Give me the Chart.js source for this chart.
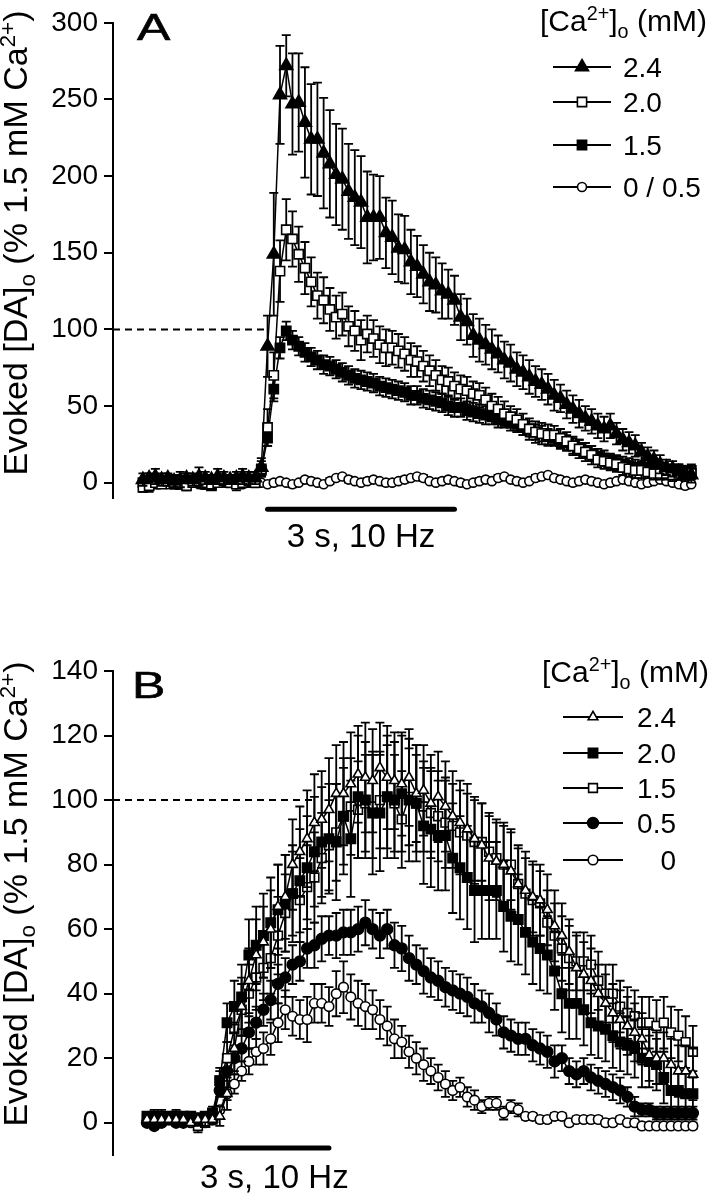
<!DOCTYPE html>
<html>
<head>
<meta charset="utf-8">
<script src="https://cdn.jsdelivr.net/npm/chart.js@4.4.1/dist/chart.umd.min.js"></script>
<style>
  html, body { margin: 0; padding: 0; background: #fff; }
  body { width: 720px; height: 1199px; position: relative; overflow: hidden;
         font-family: "Liberation Sans", Arial, sans-serif; color: #000; }
  canvas { position: absolute; left: 0; }
  #chartA { top: 0; }
  #chartB { top: 580px; }
  .txt { position: absolute; white-space: nowrap; line-height: 1; }
  .ytitle { font-size: 34px; transform: translate(-50%, -50%) rotate(-90deg); }
  .txt sup, .txt sub { font-size: 66%; line-height: 0; }
  .panel { font-size: 37px; transform: scaleX(1.35); transform-origin: 0 0; -webkit-text-stroke: 0.6px #000; }
  .legtitle { font-size: 30px; }
</style>
</head>
<body>
<canvas id="chartA" width="720" height="560"></canvas>
<canvas id="chartB" width="720" height="619"></canvas>

<div class="txt ytitle" style="left:15px; top:243px;">Evoked [DA]<sub>o</sub> (% 1.5 mM Ca<sup>2+</sup>)</div>
<div class="txt ytitle" style="left:15px; top:894px;">Evoked [DA]<sub>o</sub> (% 1.5 mM Ca<sup>2+</sup>)</div>
<div class="txt panel" style="left:137px; top:9px;">A</div>
<div class="txt panel" style="left:132px; top:667px;">B</div>
<div class="txt legtitle" style="left:540px; top:6px;">[Ca<sup>2+</sup>]<sub>o</sub> (mM)</div>
<div class="txt legtitle" style="left:542px; top:657px;">[Ca<sup>2+</sup>]<sub>o</sub> (mM)</div>

<script>
Chart.defaults.font.family = '"Liberation Sans", Arial, sans-serif';
Chart.defaults.color = '#000';

// ---- panel A: sample times (s, 0 = stimulus onset) and mean / SEM per [Ca2+]o
const timeA = [-2.0,-1.9,-1.8,-1.7,-1.6,-1.5,-1.4,-1.3,-1.2,-1.1,-1.0,-0.9,-0.8,-0.7,-0.6,-0.5,-0.4,-0.3,-0.2,-0.1,
  0.0,0.1,0.2,0.3,0.4,0.5,0.6,0.7,0.8,0.9,1.0,1.1,1.2,1.3,1.4,1.5,1.6,1.7,1.8,1.9,
  2.0,2.1,2.2,2.3,2.4,2.5,2.6,2.7,2.8,2.9,3.0,3.1,3.2,3.3,3.4,3.5,3.6,3.7,3.8,3.9,
  4.0,4.1,4.2,4.3,4.4,4.5,4.6,4.7,4.8,4.9,5.0,5.1,5.2,5.3,5.4,5.5,5.6,5.7,5.8,5.9,
  6.0,6.1,6.2,6.3,6.4,6.5,6.6,6.7,6.8];

const caA24 = [2,3,4,2,3,1,2,3,2,4,3,2,4,3,2,3,4,3,3,10,
  89,149,253,272,247,248,235,224,224,215,208,201,198,190,186,183,173,173,173,163,
  160,153,152,144,141,136,131,129,125,123,119,108,105,96,93,90,87,84,80,78,
  74,72,69,66,64,61,57,55,51,48,45,42,40,37,35,37,32,28,26,24,
  20,17,15,12,10,9,7,6,5];
const errA24 = [4,3,5,4,3,4,5,3,4,6,4,3,5,4,3,4,5,4,4,6,
  20,40,32,20,33,32,36,36,37,36,35,33,33,31,31,30,30,28,27,23,
  24,22,22,21,20,19,19,18,18,16,16,15,15,14,14,13,13,12,12,12,
  11,11,11,10,10,10,10,9,9,9,9,8,8,8,8,8,7,7,7,7,
  6,6,6,6,5,5,5,5,5];

const caA20 = [-3,-2,0,-1,1,0,-1,-2,0,1,0,-1,0,1,0,-1,0,1,0,9,
  36,70,138,165,159,149,140,131,122,119,113,108,110,102,99,93,97,94,90,88,
  88,86,84,80,79,76,73,70,67,66,63,61,60,58,57,54,50,48,45,43,
  41,38,35,33,32,31,31,29,27,24,22,20,18,15,14,13,12,10,9,8,
  8,7,6,6,6,5,6,6,6];
const errA20 = [3,4,3,2,3,4,3,3,2,3,4,3,2,3,3,4,3,2,3,5,
  12,15,20,20,18,18,17,16,15,15,14,14,14,13,13,13,12,12,12,12,
  11,11,11,11,10,10,10,10,9,9,9,9,9,8,8,8,8,8,8,7,
  7,7,7,7,7,7,6,6,6,6,6,6,6,5,5,5,5,5,5,5,
  5,4,4,4,4,4,4,4,4];

const caA15 = [0,1,-1,0,1,0,-1,0,1,0,-1,-2,0,1,0,0,1,0,1,8,
  29,61,88,99,93,89,85,82,80,77,76,74,72,70,68,67,66,65,63,62,
  61,60,59,57,57,55,54,53,52,50,49,49,47,46,45,44,43,41,41,39,
  38,36,35,33,32,30,29,27,26,24,23,21,19,17,16,14,13,12,11,10,
  9,9,8,8,8,7,8,7,8];
const errA15 = [2,3,2,2,3,2,2,3,2,2,3,2,2,3,2,2,3,2,2,3,
  5,8,7,6,6,6,6,6,6,6,6,6,6,6,6,6,6,6,6,6,
  6,6,6,6,6,6,6,6,6,6,6,6,6,6,6,6,5,5,5,5,
  5,5,5,5,5,5,5,5,5,5,5,5,5,5,5,5,5,5,5,5,
  4,4,4,4,4,4,4,4,4];

const caA05 = [1,0,1,0,-1,0,1,0,0,-1,0,1,0,0,1,0,-1,0,1,0,
  -1,0,1,0,-1,0,2,1,0,-1,1,3,4,2,1,0,1,2,1,0,
  0,1,2,3,4,3,1,0,1,2,1,0,-1,0,1,2,1,3,4,2,
  1,0,1,3,4,5,3,2,1,0,1,2,1,0,-1,0,1,2,1,0,
  -1,0,1,2,1,0,-1,-2,-1];
const errA05 = [1,1,1,1,1,1,1,1,1,1,1,1,1,1,1,1,1,1,1,1,
  1,2,1,1,2,1,1,2,1,1,2,1,1,2,1,1,2,1,1,2,
  1,1,2,1,1,2,1,1,2,1,1,2,1,1,2,1,1,2,1,1,
  2,1,1,2,1,1,2,1,1,2,1,1,2,1,1,2,1,1,2,1,
  1,2,1,1,2,1,1,2,1];

const labelsA = ['2.4', '2.0', '1.5', '0 / 0.5'];
const yTicksA = { min: -10, max: 300, step: 50 };

// ---- panel B
const timeB = [-2.0,-1.8,-1.6,-1.4,-1.2,-1.0,-0.8,-0.6,-0.4,-0.2,
  0.0,0.2,0.4,0.6,0.8,1.0,1.2,1.4,1.6,1.8,2.0,2.2,2.4,2.6,2.8,3.0,3.2,3.4,3.6,3.8,
  4.0,4.2,4.4,4.6,4.8,5.0,5.2,5.4,5.6,5.8,6.0,6.2,6.4,6.6,6.8,7.0,7.2,7.4,7.6,7.8,
  8.0,8.2,8.4,8.6,8.8,9.0,9.2,9.4,9.6,9.8,10.0,10.2,10.4,10.6,10.8,11.0,11.2,11.4,11.6,11.8,
  12.0,12.2,12.4,12.6,12.8,13.0];

const caB24 = [1,1,1,1,1,1,0,1,1,1,
  2,9,23,36,44,52,56,60,67,70,
  80,84,88,93,94,97,102,102,105,108,
  107,106,110,107,106,105,107,102,103,99,
  101,98,95,93,91,88,86,82,81,80,
  78,74,72,70,69,66,61,58,53,48,
  46,44,40,37,34,32,30,28,26,21,
  20,20,18,16,16,15];
const errB24 = [1,1,2,1,1,2,1,1,2,1,
  3,5,8,9,10,11,11,12,13,13,
  14,14,15,15,15,16,15,16,16,15,
  17,16,14,16,15,16,15,15,14,15,
  14,14,14,13,14,13,13,13,12,13,
  12,12,12,11,11,11,11,10,10,10,
  10,10,9,9,9,9,9,9,8,8,
  8,8,8,8,8,8];

const caB20 = [2,2,1,2,2,2,2,1,2,3,
  13,31,36,39,52,55,58,62,66,68,
  71,75,79,84,87,88,87,95,88,101,
  100,96,96,101,100,102,100,99,92,91,
  89,89,82,79,76,72,72,72,72,67,
  64,63,59,56,54,52,47,40,37,37,
  35,31,30,29,27,25,24,23,20,19,
  18,14,10,10,9,9];
const errB20 = [1,2,1,1,2,1,1,2,1,2,
  4,6,8,10,11,12,13,14,14,15,
  15,16,16,17,17,17,18,18,18,19,
  18,19,18,19,18,18,19,18,18,18,
  17,17,17,16,16,16,15,15,15,14,
  14,14,13,13,13,12,12,12,11,11,
  11,10,10,10,10,9,9,9,9,8,
  8,8,8,7,7,7];

const caB15 = [1,1,2,1,1,1,1,-1,0,1,
  13,20,29,35,40,45,48,51,58,65,
  71,69,73,76,82,86,90,95,98,97,
  99,98,100,101,99,94,101,99,98,96,
  95,93,92,90,89,87,87,84,82,80,
  80,74,71,69,68,62,58,54,51,50,
  50,49,44,40,40,36,34,33,31,31,
  30,31,28,27,25,22];
const errB15 = [1,1,2,1,1,2,1,2,1,1,
  3,5,7,8,9,10,10,11,12,12,
  13,13,13,14,14,14,15,15,15,15,
  15,16,15,16,15,15,15,15,14,14,
  14,14,13,13,13,13,12,12,12,12,
  11,11,11,11,10,10,10,10,10,9,
  9,9,9,9,9,8,8,8,8,8,
  8,8,8,8,8,8];

const caB05 = [0,-1,0,1,0,0,1,0,1,1,
  10,16,20,23,28,31,35,38,43,45,
  49,50,54,55,57,58,58,59,59,60,
  62,60,58,60,55,54,51,49,47,45,
  44,42,41,40,39,37,36,34,32,28,
  27,26,26,24,23,22,19,20,16,15,
  16,14,13,12,11,10,8,5,4,4,
  3,3,3,3,3,3];
const errB05 = [1,1,1,1,1,1,1,1,1,1,
  2,3,4,4,5,5,5,6,6,6,
  6,6,6,7,7,6,7,7,7,7,
  7,6,7,6,7,7,7,6,7,6,
  6,6,6,6,6,6,5,6,5,5,
  5,5,5,5,5,5,5,4,4,4,
  4,4,4,4,4,4,3,3,2,2,
  2,2,2,2,2,2];

const caB0 = [0,1,0,1,1,0,0,1,0,1,
  4,9,12,16,19,22,23,26,31,35,
  33,32,32,37,37,36,40,42,39,37,
  36,35,32,30,26,25,22,20,18,16,
  14,12,10,11,8,7,5,6,6,3,
  5,4,2,2,1,1,2,2,0,1,
  1,1,1,0,0,1,0,0,-1,-1,
  -1,-1,-1,-1,-1,-1];
const errB0 = [1,1,1,1,1,1,1,1,1,1,
  1,2,3,3,4,4,5,5,6,6,
  6,6,7,6,6,6,7,8,7,7,
  7,6,6,6,6,5,5,5,5,4,
  4,4,3,3,3,3,2,2,2,2,
  2,2,1,1,1,1,1,1,1,1,
  1,1,1,1,1,1,1,1,1,1,
  1,1,1,1,1,1];

const labelsB = ['2.4', '2.0', '1.5', '0.5', '0'];
const yTicksB = { min: -10, max: 140, step: 20 };

// stimulus: 3 s train at 10 Hz, starting at t = 0
const stimStart = 0;
const stimEnd = 3;
const stimLabel = '3 s, 10 Hz';

const FONT = '"Liberation Sans", Arial, sans-serif';

function drawMarker(ctx, shape, r, filled, x, y) {
  ctx.beginPath();
  if (shape === 'circle') {
    ctx.arc(x, y, r, 0, Math.PI * 2);
  } else if (shape === 'rect') {
    const s = r * Math.SQRT1_2;
    ctx.rect(x - s, y - s, 2 * s, 2 * s);
  } else {
    ctx.moveTo(x, y - r);
    ctx.lineTo(x + 0.866 * r, y + 0.5 * r);
    ctx.lineTo(x - 0.866 * r, y + 0.5 * r);
    ctx.closePath();
  }
  ctx.fillStyle = filled ? '#000' : '#fff';
  ctx.fill();
  ctx.lineWidth = 1.6;
  ctx.strokeStyle = '#000';
  ctx.stroke();
}

// vertical SEM bars, drawn just under each series so markers sit on top
const errorBars = {
  id: 'errorBars',
  beforeDatasetDraw(chart, args) {
    const ds = chart.data.datasets[args.index];
    if (!ds.errors) return;
    const { ctx } = chart;
    const y = chart.scales.y;
    ctx.save();
    ctx.strokeStyle = '#000';
    ctx.lineWidth = 1.8;
    args.meta.data.forEach((pt, i) => {
      const v = ds.data[i].y;
      const e = ds.errors[i];
      const top = y.getPixelForValue(v + e);
      const bot = y.getPixelForValue(v - e);
      ctx.beginPath();
      ctx.moveTo(pt.x, top); ctx.lineTo(pt.x, bot);
      ctx.moveTo(pt.x - 4.5, top); ctx.lineTo(pt.x + 4.5, top);
      ctx.moveTo(pt.x - 4.5, bot); ctx.lineTo(pt.x + 4.5, bot);
      ctx.stroke();
    });
    ctx.restore();
  }
};

const stimBar = {
  id: 'stimBar',
  afterDraw(chart, args, o) {
    const { ctx, scales: { x, y } } = chart;
    const x0 = x.getPixelForValue(stimStart);
    const x1 = x.getPixelForValue(stimEnd);
    const yy = y.getPixelForValue(o.level);
    ctx.save();
    ctx.strokeStyle = '#000';
    ctx.lineWidth = 5;
    ctx.lineCap = 'round';
    ctx.beginPath();
    ctx.moveTo(x0, yy);
    ctx.lineTo(x1, yy);
    ctx.stroke();
    ctx.fillStyle = '#000';
    ctx.font = '33px ' + FONT;
    ctx.textAlign = 'center';
    ctx.textBaseline = 'alphabetic';
    ctx.fillText(stimLabel, (x0 + x1) / 2, yy + o.gap);
    ctx.restore();
  }
};

const markLegend = {
  id: 'markLegend',
  afterDraw(chart, args, o) {
    const { ctx } = chart;
    ctx.save();
    chart.data.datasets.filter(ds => ds.mark).forEach((ds, i) => {
      const ry = o.rows[i];
      ctx.strokeStyle = '#000';
      ctx.lineWidth = 2;
      ctx.beginPath();
      ctx.moveTo(o.x0, ry);
      ctx.lineTo(o.x1, ry);
      ctx.stroke();
      drawMarker(ctx, ds.mark.shape, ds.mark.r, ds.mark.filled, (o.x0 + o.x1) / 2, ry);
      ctx.fillStyle = '#000';
      ctx.font = '28px ' + FONT;
      ctx.textAlign = o.align;
      ctx.textBaseline = 'alphabetic';
      ctx.fillText(ds.label, o.textX, ry + 10);
    });
    ctx.restore();
  }
};

function series(label, times, values, errors, mark) {
  return {
    label,
    mark,
    errors,
    data: times.map((t, i) => ({ x: t, y: values[i] })),
    borderColor: '#000',
    borderWidth: 1.5,
    pointStyle: mark.shape,
    pointRadius: mark.r,
    pointHoverRadius: mark.r,
    pointBackgroundColor: mark.filled ? '#000' : '#fff',
    pointBorderColor: '#000',
    pointBorderWidth: 1.6,
    fill: false,
    tension: 0
  };
}

function refLine(xFrom, xTo) {
  return {
    label: 'ref',
    data: [{ x: xFrom, y: 100 }, { x: xTo, y: 100 }],
    borderColor: '#000',
    borderWidth: 2,
    borderDash: [7, 5],
    pointRadius: 0,
    fill: false
  };
}

function panelOptions(xMin, xMax, ticks, pad, level, gap, legend) {
  return {
    responsive: false,
    animation: false,
    events: [],
    layout: { autoPadding: false, padding: pad },
    scales: {
      x: { type: 'linear', display: false, min: xMin, max: xMax },
      y: {
        min: ticks.min,
        max: ticks.max,
        afterFit: (s) => { s.width = 113; },
        border: { display: true, color: '#000', width: 2 },
        grid: { drawOnChartArea: false, color: '#000', lineWidth: 2, tickLength: 9 },
        ticks: { stepSize: ticks.step, includeBounds: false, padding: 6, color: '#000', font: { size: 28 } }
      }
    },
    plugins: {
      legend: { display: false },
      tooltip: { enabled: false },
      stimBar: { level, gap },
      markLegend: legend
    }
  };
}

new Chart(document.getElementById('chartA'), {
  type: 'line',
  data: {
    datasets: [
      series(labelsA[0], timeA, caA24, errA24, { shape: 'triangle', r: 7.5, filled: true }),
      series(labelsA[1], timeA, caA20, errA20, { shape: 'rect', r: 6.5, filled: false }),
      series(labelsA[2], timeA, caA15, errA15, { shape: 'rect', r: 6.5, filled: true }),
      series(labelsA[3], timeA, caA05, errA05, { shape: 'circle', r: 4.5, filled: false }),
      refLine(-2.48, 0)
    ]
  },
  options: panelOptions(-2.48, 7.10, yTicksA, { top: 14, bottom: 62, left: 0, right: 10 }, -17.3, 38,
    { x0: 553, x1: 611, textX: 623, align: 'left', rows: [67, 102, 145, 187] }),
  plugins: [errorBars, stimBar, markLegend]
});

new Chart(document.getElementById('chartB'), {
  type: 'line',
  data: {
    datasets: [
      series(labelsB[0], timeB, caB24, errB24, { shape: 'triangle', r: 5.6, filled: false }),
      series(labelsB[1], timeB, caB20, errB20, { shape: 'rect', r: 6.6, filled: true }),
      series(labelsB[2], timeB, caB15, errB15, { shape: 'rect', r: 6.2, filled: false }),
      series(labelsB[3], timeB, caB05, errB05, { shape: 'circle', r: 5.4, filled: true }),
      series(labelsB[4], timeB, caB0, errB0, { shape: 'circle', r: 4.8, filled: false }),
      refLine(-2.934, 2.56)
    ]
  },
  options: panelOptions(-2.934, 13.47, yTicksB, { top: 91, bottom: 44, left: 0, right: 10 }, -7.8, 40,
    { x0: 563, x1: 623, textX: 676, align: 'right', rows: [137, 173, 208, 243, 280] }),
  plugins: [errorBars, stimBar, markLegend]
});
</script>
</body>
</html>
